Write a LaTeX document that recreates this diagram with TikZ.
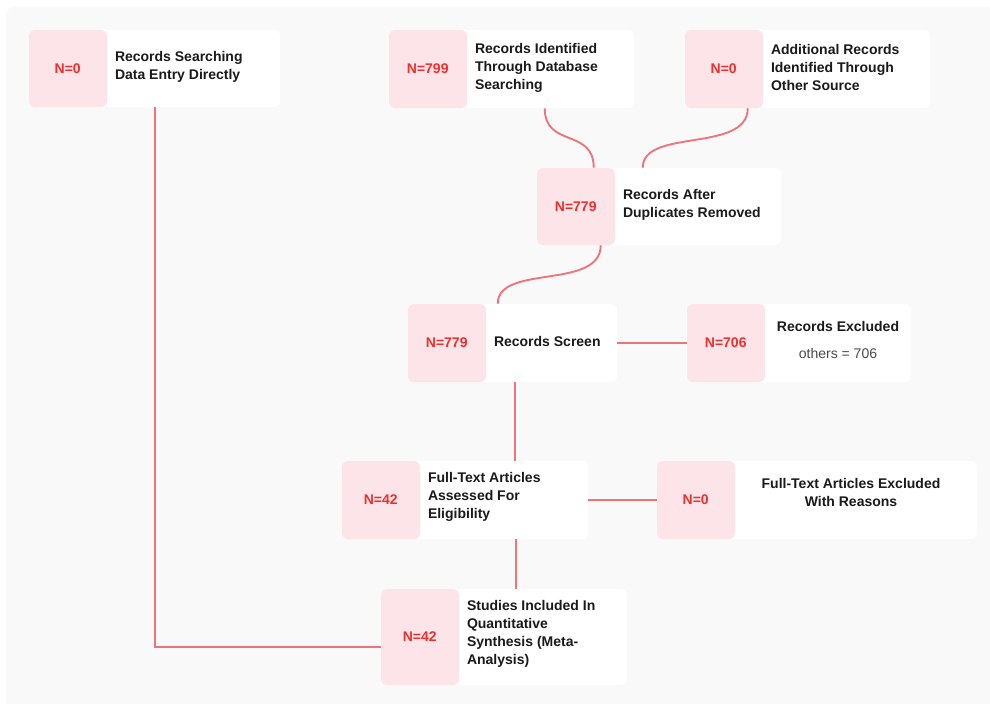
\documentclass[tikz,border=0pt]{standalone}
\usepackage{fontspec}
\setmainfont{Liberation Sans}
\usepackage{xcolor}
\usetikzlibrary{calc, positioning}

\definecolor{panelgray}{HTML}{F9F9F9}
\definecolor{cardpink}{HTML}{FCE4E8}
\definecolor{numred}{HTML}{E8322F}
\definecolor{linkred}{HTML}{EF737A}
\definecolor{inkdark}{HTML}{1A1A1A}
\definecolor{inkgray}{HTML}{4A4A4A}

\tikzset{
  card/.style={draw=none, fill=white, rounded corners=4.5pt, inner sep=0pt,
    minimum height=57.75pt,
    path picture={\fill[cardpink] (path picture bounding box.north west)
      rectangle ([xshift=58.5pt]path picture bounding box.south west);}},
  numlbl/.style={text=numred, font=\fontsize{10.5}{13.5}\selectfont\bfseries, inner sep=0pt},
  desc/.style={text=inkdark, font=\fontsize{10.5}{13.5}\selectfont\bfseries, align=left, inner sep=0pt, anchor=west},
  desccenter/.style={text=inkdark, font=\fontsize{10.5}{13.5}\selectfont\bfseries, align=center, inner sep=0pt},
  link/.style={draw=linkred, line width=1.4pt}
}

\begin{document}
\begin{tikzpicture}[x=0.75pt, y=-0.75pt]
  \useasboundingbox (0,0) rectangle (990,704);
  \fill[panelgray, rounded corners=6pt] (6,7) rectangle (996,712);

  % Cards
  \node[card, minimum width=188.25pt] (srch) at (154.5,68.5) {};
  \node[card, minimum width=183.75pt, minimum height=58.5pt] (dbase) at (511.5,69) {};
  \node[card, minimum width=183.75pt, minimum height=58.5pt] (other) at (807.5,69) {};
  \node[card, minimum width=183pt] (dupl) at (659,206.5) {};
  \node[card, minimum width=156.75pt, minimum height=58.5pt] (scr) at (512.5,343) {};
  \node[card, minimum width=168pt, minimum height=58.5pt] (excl) at (799,343) {};
  \node[card, minimum width=184.5pt, minimum height=58.5pt] (elig) at (465,500) {};
  \node[card, minimum width=240pt, minimum height=58.5pt] (fexcl) at (817,500) {};
  \node[card, minimum width=184.5pt, minimum height=72pt] (incl) at (504,637) {};

  % Counts
  \node[numlbl] (srchN) at ($(srch.west)+(39,0)$) {N=0};
  \node[numlbl] (dbaseN) at ($(dbase.west)+(39,0)$) {N=799};
  \node[numlbl] (otherN) at ($(other.west)+(39,0)$) {N=0};
  \node[numlbl] (duplN) at ($(dupl.west)+(39,0)$) {N=779};
  \node[numlbl] (scrN) at ($(scr.west)+(39,0)$) {N=779};
  \node[numlbl] (exclN) at ($(excl.west)+(39,0)$) {N=706};
  \node[numlbl] (eligN) at ($(elig.west)+(39,0)$) {N=42};
  \node[numlbl] (fexclN) at ($(fexcl.west)+(39,0)$) {N=0};
  \node[numlbl] (inclN) at ($(incl.west)+(39,0)$) {N=42};

  % Texts
  \node[desc] (srchT) at ($(srch.west)+(86,-2)$) {Records Searching\\Data Entry Directly};
  \node[desc] (dbaseT) at ($(dbase.west)+(86,-1)$) {Records Identified\\Through Database\\Searching};
  \node[desc] (otherT) at ($(other.west)+(86,-2)$) {Additional Records\\Identified Through\\Other Source};
  \node[desc] (duplT) at ($(dupl.west)+(86,-2)$) {Records After\\Duplicates Removed};
  \node[desc] (scrT) at ($(scr.west)+(86,-2)$) {Records Screen};
  \node[desccenter] (exclT) at ($(excl.west)!0.5!(excl.east)+(39,-3)$)
    {Records Excluded\\[7pt]{\mdseries\color{inkgray}others = 706}};
  \node[desc] (eligT) at ($(elig.west)+(86,-3)$) {Full-Text Articles\\Assessed For\\Eligibility};
  \node[desccenter] (fexclT) at ($(fexcl.west)!0.5!(fexcl.east)+(34,-8)$)
    {Full-Text Articles Excluded\\With Reasons};
  \node[desc] (inclT) at ($(incl.west)+(86,-3)$) {Studies Included In\\Quantitative\\Synthesis (Meta-\\Analysis)};

  % Connectors
  \draw[link] ($(srch.south west)+(126,0)$) |- ($(incl.west)+(0,10)$);
  \draw[link] ($(dbase.south west)+(156,0)$) .. controls +(0,40) and +(0,-40) .. ($(dupl.north west)+(57,0)$);
  \draw[link] ($(other.south west)+(63,0)$) .. controls +(0,45) and +(0,-40) .. ($(dupl.north west)+(106,0)$);
  \draw[link] ($(dupl.south west)+(64,0)$) .. controls +(0,45) and +(0,-40) .. ($(scr.north west)+(90,0)$);
  \draw[link] ($(scr.south west)+(107,0)$) -- ($(elig.north west)+(173,0)$);
  \draw[link] (scr.east) -- (excl.west);
  \draw[link] (elig.east) -- (fexcl.west);
  \draw[link] ($(elig.south west)+(174,0)$) -- ($(incl.north west)+(135,0)$);
\end{tikzpicture}
\end{document}
